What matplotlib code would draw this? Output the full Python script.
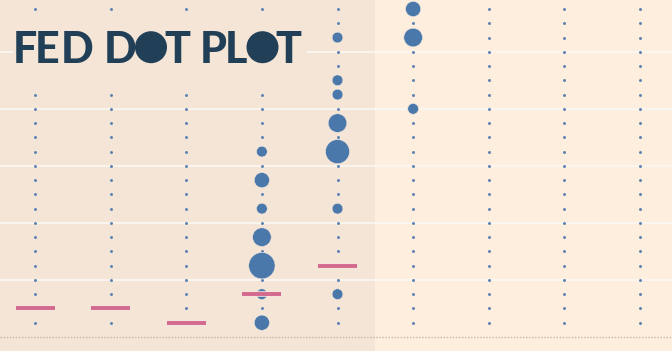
import numpy as np
import matplotlib.pyplot as plt
import matplotlib.patheffects as pe
from matplotlib.patches import Rectangle, Ellipse

# one column per meeting, rates are target range midpoints (%)
columns = [0, 1, 2, 3, 4, 5, 6, 7, 8]
grid_rates = np.arange(0.125, 2.876, 0.125)

# participant dots: column, rate, number of participants
dot_cols = [3, 3, 3, 3, 3, 3, 3, 4, 4, 4, 4, 4, 4, 4, 5, 5, 5]
dot_rates = [1.625, 1.375, 1.125, 0.875, 0.625, 0.375, 0.125,
             2.625, 2.25, 2.125, 1.875, 1.625, 1.125, 0.375,
             2.875, 2.625, 2.0]
dot_counts = [1, 2, 1, 3, 6, 1, 2,
              1, 1, 1, 3, 5, 1, 1,
              2, 3, 1]

# actual rate markers
bar_cols = [0, 1, 2, 3, 4]
bar_rates = [0.25, 0.25, 0.125, 0.375, 0.625]

title_letters = ['F', 'E', 'D', 'D', 'T', 'P', 'L', 'T']

W, H = 672, 351
def fx(x):
    return x / W
def fy(y):
    return 1 - y / H

fig = plt.figure(figsize=(6.72, 3.51), dpi=100)
fig.patch.set_facecolor('#fdeede')
ax = fig.add_axes([0, 0, 1, 1])
ax.set_xlim(-0.463, 8.423)
ax.set_ylim(-0.123, 2.954)
ax.axis('off')

# history vs projection background
ax.axvspan(-0.463, 4.5, color='#f4e5d6', lw=0, zorder=0)

for r in [0.5, 1.0, 1.5, 2.0, 2.5]:
    ax.axhline(r, color='#faf6f1', lw=1.3, zorder=1)
ax.axhline(0, color='#c4b5a7', lw=1.0, ls=(0, (1, 1.2)), zorder=1)

gx, gy = np.meshgrid(columns, grid_rates)
ax.scatter(gx.ravel(), gy.ravel(), s=4.5, color='#5b80b3', lw=0, zorder=2)

ax.scatter(dot_cols, dot_rates, s=[60 * c for c in dot_counts], color='#4a78aa',
           edgecolor='#f4e8dc', lw=0.4, zorder=3)

bc = np.array(bar_cols)
ax.hlines(bar_rates, bc - 0.258, bc + 0.258, color='#d56a8f', lw=2.8, zorder=4,
          path_effects=[pe.Stroke(linewidth=4.0, foreground='#f8e3e0'), pe.Normal()])

# title block
ax.add_patch(Rectangle((fx(13), fy(87)), fx(294), 71 / H, transform=ax.transAxes,
                       facecolor='#f4e5d6', lw=0, zorder=5))
letter_x = [24.5, 47.5, 77.5, 120, 177, 213, 236, 288]
for ch, xc in zip(title_letters, letter_x):
    ax.text(fx(xc), fy(62.7), ch, transform=ax.transAxes, ha='center', va='baseline',
            fontsize=31, fontfamily='Lato', fontweight='black', color='#213f56', zorder=6)
for xc in [151, 262.5]:
    ax.add_patch(Ellipse((fx(xc), fy(47.2)), 32 / W, 32 / H, transform=ax.transAxes,
                         color='#213f56', lw=0, zorder=6))

fig.savefig('out.png', dpi=100, facecolor=fig.get_facecolor())
